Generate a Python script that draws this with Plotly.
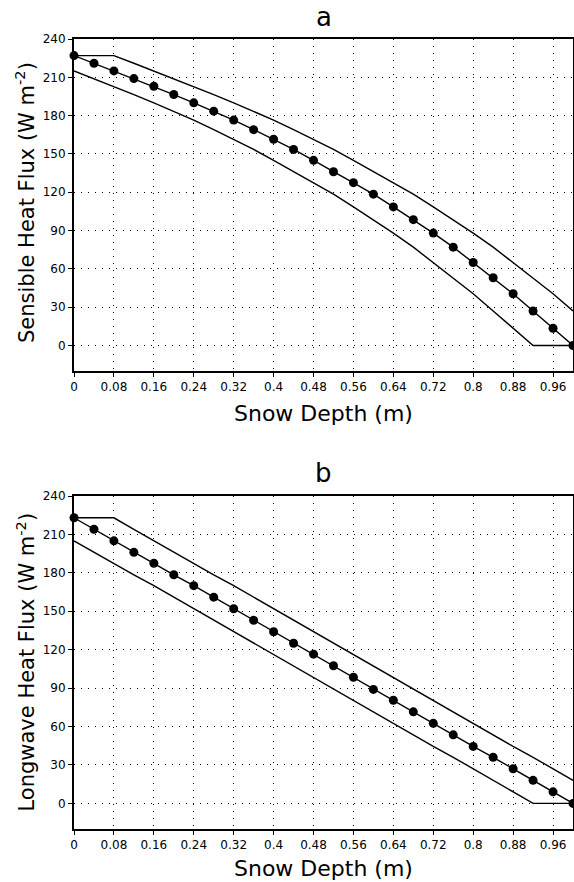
import plotly.graph_objects as go

# ---- data ----
depth = [0, 0.04, 0.08, 0.12, 0.16, 0.2, 0.24, 0.28, 0.32, 0.36, 0.4, 0.44, 0.48,
         0.52, 0.56, 0.6, 0.64, 0.68, 0.72, 0.76, 0.8, 0.84, 0.88, 0.92, 0.96, 1.0]

sens_mid = [227, 221, 215, 209, 203, 196.5, 190, 183.5, 176.5, 169, 161.5, 153.5, 145,
            136, 127.5, 118.5, 108.5, 98.5, 88, 77, 65, 53, 40.5, 27, 13.5, 0]
sens_up_x = [0, 0.08, 0.12, 0.16, 0.2, 0.24, 0.28, 0.32, 0.36, 0.4, 0.44, 0.48, 0.52,
             0.56, 0.6, 0.64, 0.68, 0.72, 0.76, 0.8, 0.84, 0.88, 0.92, 0.96, 1.0]
sens_up = [227, 227, 221, 215, 209, 203, 196.5, 190, 183.5, 176.5, 169, 161.5, 153.5,
           145, 136, 127.5, 118.5, 108.5, 98.5, 88, 77, 65, 53, 40.5, 27]
sens_lo_x = [0, 0.04, 0.08, 0.12, 0.16, 0.2, 0.24, 0.28, 0.32, 0.36, 0.4, 0.44, 0.48,
             0.52, 0.56, 0.6, 0.64, 0.68, 0.72, 0.76, 0.8, 0.84, 0.88, 0.92, 1.0]
sens_lo = [215, 209, 203, 196.5, 190, 183.5, 176.5, 169, 161.5, 153.5, 145, 136, 127.5,
           118.5, 108.5, 98.5, 88, 77, 65, 53, 40.5, 27, 13.5, 0, 0]

long_mid = [223, 214, 205, 196, 187.5, 178.5, 170, 161, 152, 143, 134, 125, 116.5,
            107.5, 98.5, 89, 80.5, 71.5, 62.5, 53.5, 44.5, 36, 27, 18, 9, 0]
long_up_x = sens_up_x
long_up = [223, 223, 214, 205, 196, 187.5, 178.5, 170, 161, 152, 143, 134, 125,
           116.5, 107.5, 98.5, 89, 80.5, 71.5, 62.5, 53.5, 44.5, 36, 27, 18]
long_lo_x = sens_lo_x
long_lo = [205, 196, 187.5, 178.5, 170, 161, 152, 143, 134, 125, 116.5, 107.5, 98.5,
           89, 80.5, 71.5, 62.5, 53.5, 44.5, 36, 27, 18, 9, 0, 0]

x_ticks = [0, 0.08, 0.16, 0.24, 0.32, 0.4, 0.48, 0.56, 0.64, 0.72, 0.8, 0.88, 0.96]
x_tick_text = ["0", "0.08", "0.16", "0.24", "0.32", "0.4", "0.48", "0.56", "0.64",
               "0.72", "0.8", "0.88", "0.96"]
y_ticks = [0, 30, 60, 90, 120, 150, 180, 210, 240]

panel_titles = ["a", "b"]
x_title = "Snow Depth (m)"
y_titles = ["Sensible Heat Flux (W m<sup>-2</sup>)", "Longwave Heat Flux (W m<sup>-2</sup>)"]

FONT = "DejaVu Sans"
H = 882.0
PW = 499.0  # plot width in px

fig = go.Figure()

panels = [
    (sens_mid, sens_up_x, sens_up, sens_lo_x, sens_lo, "x", "y"),
    (long_mid, long_up_x, long_up, long_lo_x, long_lo, "x2", "y2"),
]
for mid, ux, up, lx, lo, xa, ya in panels:
    fig.add_trace(go.Scatter(x=ux, y=up, mode="lines", line=dict(color="black", width=1.4),
                             xaxis=xa, yaxis=ya, showlegend=False, cliponaxis=False))
    fig.add_trace(go.Scatter(x=lx, y=lo, mode="lines", line=dict(color="black", width=1.4),
                             xaxis=xa, yaxis=ya, showlegend=False, cliponaxis=False))
    fig.add_trace(go.Scatter(x=depth, y=mid, mode="lines+markers",
                             line=dict(color="black", width=1.4),
                             marker=dict(color="black", size=9),
                             xaxis=xa, yaxis=ya, showlegend=False, cliponaxis=False))

# pixel layout
top_dom = [1 - 371 / H, 1 - 39 / H]
bot_dom = [1 - 829 / H, 1 - 496 / H]

axis_common_x = dict(
    range=[0, 1], tickvals=x_ticks, ticktext=x_tick_text, ticks="outside", ticklen=4,
    tickcolor="black", tickwidth=1, showgrid=True, gridcolor="black", gridwidth=1,
    griddash="1px,6px", zeroline=False, showline=True, linecolor="black", linewidth=2,
    mirror=True, tickfont=dict(family=FONT, size=12, color="black"), automargin=False,
)
axis_common_y = dict(
    range=[-20, 240], tickvals=y_ticks, ticks="outside", ticklen=4,
    tickcolor="black", tickwidth=1, showgrid=True, gridcolor="black", gridwidth=1,
    griddash="1px,6px", zeroline=False, showline=True, linecolor="black", linewidth=2,
    mirror=True, tickfont=dict(family=FONT, size=12, color="black"), automargin=False,
)

fig.update_layout(
    width=574, height=882,
    margin=dict(l=74, r=1, t=0, b=0, autoexpand=False),
    paper_bgcolor="white", plot_bgcolor="white",
    xaxis=dict(domain=[0, 1], anchor="y", **axis_common_x),
    yaxis=dict(domain=top_dom, anchor="x", **axis_common_y),
    xaxis2=dict(domain=[0, 1], anchor="y2", **axis_common_x),
    yaxis2=dict(domain=bot_dom, anchor="x2", **axis_common_y),
)

ann = []
common = dict(xref="paper", yref="paper", showarrow=False, xanchor="center",
              yanchor="middle")
# panel titles
ann.append(dict(text=panel_titles[0], x=0.5, y=1 - 17 / H,
                font=dict(family=FONT, size=26, color="black"), **common))
ann.append(dict(text=panel_titles[1], x=0.5, y=1 - 473 / H,
                font=dict(family=FONT, size=26, color="black"), **common))
# x titles
for ypix in (413, 868):
    ann.append(dict(text=x_title, x=0.5, y=1 - ypix / H,
                    font=dict(family=FONT, size=22, color="black"), **common))
# y titles
for t, ypix in zip(y_titles, (203, (496 + 829) / 2)):
    ann.append(dict(text=t, x=(25 - 74) / PW, y=1 - ypix / H, textangle=-90,
                    font=dict(family=FONT, size=21, color="black"), **common))
fig.update_layout(annotations=ann)

fig.write_html(
    "out.html",
    config={"displayModeBar": False},
    post_script="document.body.style.margin='0';document.body.style.padding='0';"
                "document.documentElement.style.overflow='hidden';"
                "document.body.style.overflow='hidden';",
)
